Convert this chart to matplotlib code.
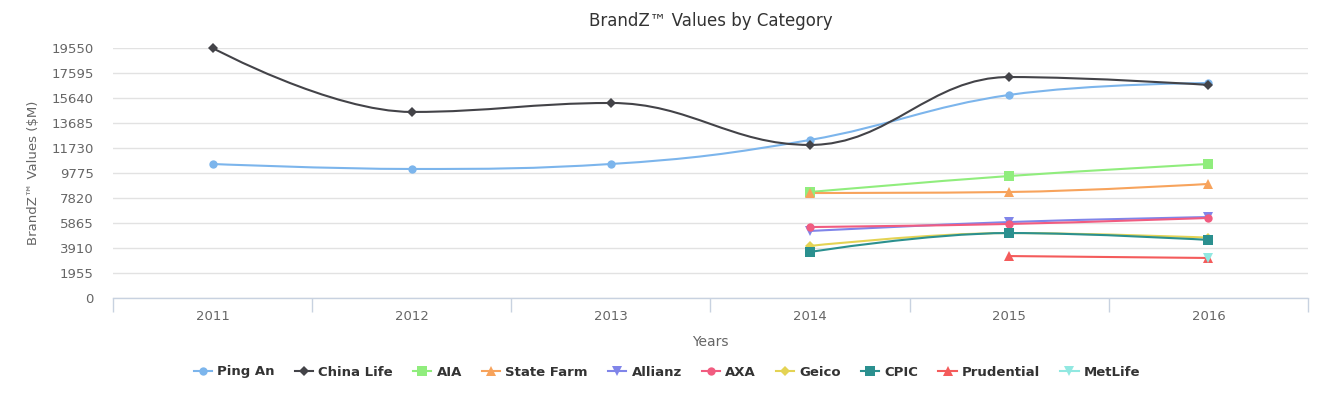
import numpy as np
import matplotlib
matplotlib.use("Agg")
from matplotlib import pyplot as plt
from matplotlib.path import Path
from matplotlib.patches import PathPatch
from matplotlib.lines import Line2D

years = ["2011", "2012", "2013", "2014", "2015", "2016"]
y_ticks = [0, 1955, 3910, 5865, 7820, 9775, 11730, 13685, 15640, 17595, 19550]

ping_an = [10480, 10090, 10480, 12360, 15880, 16810]
china_life = [19550, 14550, 15250, 11970, 17280, 16660]
aia = [None, None, None, 8290, 9540, 10480]
state_farm = [None, None, None, 8210, 8290, 8920]
allianz = [None, None, None, 5240, 5940, 6330]
axa = [None, None, None, 5550, 5790, 6260]
geico = [None, None, None, 4070, 5080, 4720]
cpic = [None, None, None, 3600, 5080, 4540]
prudential = [None, None, None, None, 3280, 3130]
metlife = [None, None, None, None, None, 3130]

series = [
    ("Ping An", ping_an, "#7cb5ec", "o"),
    ("China Life", china_life, "#434348", "D"),
    ("AIA", aia, "#90ed7d", "s"),
    ("State Farm", state_farm, "#f7a35c", "^"),
    ("Allianz", allianz, "#8085e9", "v"),
    ("AXA", axa, "#f15c80", "o"),
    ("Geico", geico, "#e4d354", "D"),
    ("CPIC", cpic, "#2b908f", "s"),
    ("Prudential", prudential, "#f45b5b", "^"),
    ("MetLife", metlife, "#91e8e1", "v"),
]
marker_sizes = {"o": 6, "D": 5.5, "s": 6.5, "^": 6.5, "v": 6.5}


def spline_path(xs, ys):
    # Highcharts-style spline control points
    sm, den = 1.5, 2.5
    n = len(xs)
    verts = [(xs[0], ys[0])]
    codes = [Path.MOVETO]
    rights = []
    lefts = []
    for i in range(n):
        x, y = xs[i], ys[i]
        if 0 < i < n - 1:
            lx, ly = xs[i - 1], ys[i - 1]
            nx, ny = xs[i + 1], ys[i + 1]
            lcx = (sm * x + lx) / den
            lcy = (sm * y + ly) / den
            rcx = (sm * x + nx) / den
            rcy = (sm * y + ny) / den
            corr = ((rcy - lcy) * (rcx - x)) / (rcx - lcx) + y - rcy
            lcy += corr
            rcy += corr
            if lcy > ly and lcy > y:
                lcy = max(ly, y)
                rcy = 2 * y - lcy
            elif lcy < ly and lcy < y:
                lcy = min(ly, y)
                rcy = 2 * y - lcy
            if rcy > ny and rcy > y:
                rcy = max(ny, y)
                lcy = 2 * y - rcy
            elif rcy < ny and rcy < y:
                rcy = min(ny, y)
                lcy = 2 * y - rcy
            lefts.append((lcx, lcy))
            rights.append((rcx, rcy))
        else:
            lefts.append((x, y))
            rights.append((x, y))
    for i in range(1, n):
        verts += [rights[i - 1], lefts[i], (xs[i], ys[i])]
        codes += [Path.CURVE4] * 3
    return Path(verts, codes)


fig = plt.figure(figsize=(13.29, 3.99), dpi=100)
ax = fig.add_axes([113 / 1329, 1 - 298 / 399, 1195 / 1329, 250 / 399])

handles = []
for name, vals, color, mk in series:
    xs = [i for i, v in enumerate(vals) if v is not None]
    ys = [v for v in vals if v is not None]
    if len(xs) > 1:
        ax.add_patch(PathPatch(spline_path(xs, ys), fill=False, edgecolor=color,
                               lw=1.5, zorder=3, clip_on=False))
    ms = marker_sizes[mk]
    ax.plot(xs, ys, linestyle="none", marker=mk, color=color, markersize=ms,
            markeredgewidth=0, zorder=4, clip_on=False)
    handles.append(Line2D([0], [0], color=color, lw=1.5, marker=mk, markersize=ms,
                          markeredgewidth=0, label=name))

ax.set_xlim(-0.5, 5.5)
ax.set_ylim(0, 19550)
ax.set_yticks(y_ticks)
ax.set_yticklabels([str(t) for t in y_ticks])
ax.set_xticks(range(len(years)))
ax.set_xticklabels(years)
ax.set_xticks(np.arange(-0.5, 6.0, 1.0), minor=True)
ax.tick_params(axis="x", which="major", length=0, pad=9, labelsize=9.5, labelcolor="#666666")
ax.tick_params(axis="x", which="minor", length=10, color="#c8d2e0", width=1, direction="out")
ax.tick_params(axis="y", length=0, pad=14, labelsize=9.5, labelcolor="#666666")
ax.grid(axis="y", color="#e2e2e2", lw=1)
ax.set_axisbelow(True)
for s in ["top", "right", "left"]:
    ax.spines[s].set_visible(False)
ax.spines["bottom"].set_color("#c8d2e0")
ax.spines["bottom"].set_linewidth(1)

ax.set_title("BrandZ™ Values by Category", fontsize=12, color="#333333", pad=16)
ax.set_ylabel("BrandZ™ Values ($M)", fontsize=9.5, color="#666666", labelpad=8)
ax.set_xlabel("Years", fontsize=10, color="#666666", labelpad=8)

fig.legend(handles=handles, loc="center", bbox_to_anchor=(667 / 1329, 1 - 372 / 399),
           ncol=10, frameon=False, handlelength=1.4, columnspacing=1.5,
           handletextpad=0.4, prop={"size": 9.5, "weight": "bold"}, labelcolor="#333333")

fig.savefig("out.png", dpi=100)
